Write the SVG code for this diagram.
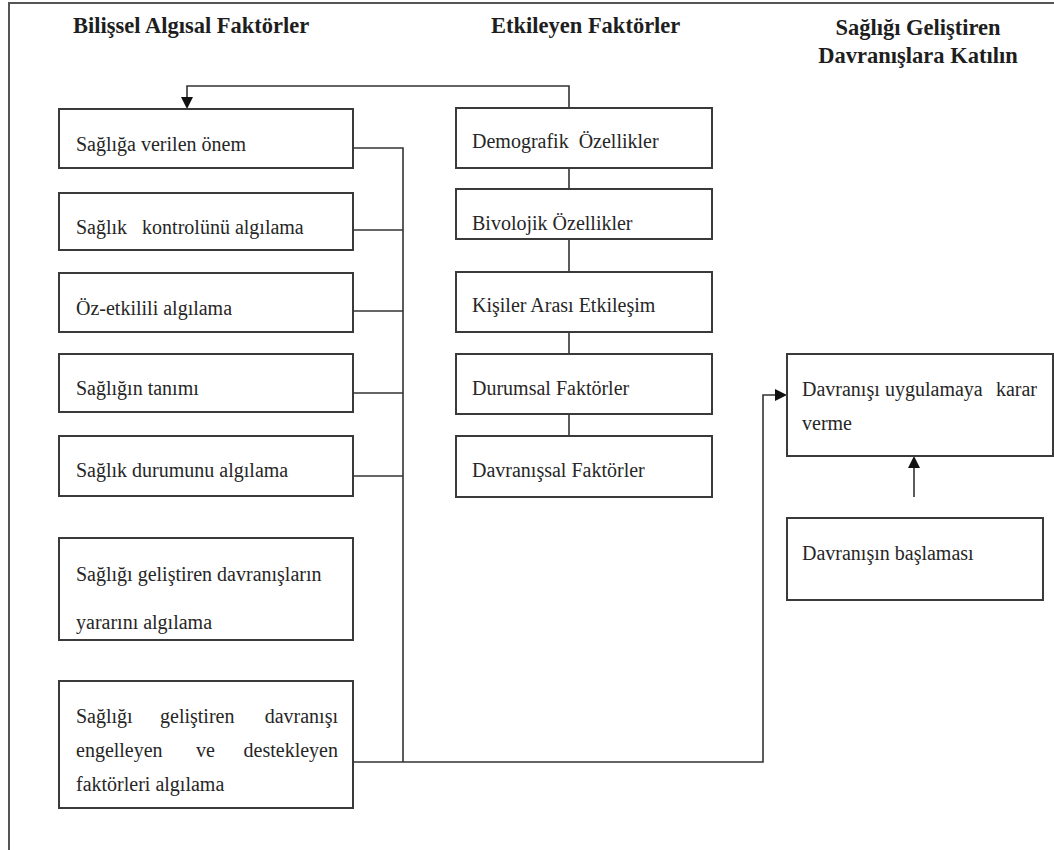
<svg xmlns="http://www.w3.org/2000/svg" width="1054" height="850" viewBox="0 0 1054 850">
<style>
.box{fill:#fff;stroke:#3a3a3a;stroke-width:2}
.t{font-family:"Liberation Serif","DejaVu Serif",serif;font-size:20px;fill:#262626;white-space:pre}
.h{font-family:"Liberation Serif","DejaVu Serif",serif;font-size:22.5px;font-weight:bold;fill:#1e1e1e}
.c{fill:none;stroke:#333;stroke-width:1.6}
.ah{fill:#111}
</style>
<rect width="1054" height="850" fill="#fff"/>
<path d="M9,850 V3 H1054" fill="none" stroke="#555" stroke-width="2"/>
<g id="headers">
<text class="h" x="73" y="33">Bilişsel Algısal Faktörler</text>
<text class="h" x="491" y="33">Etkileyen Faktörler</text>
<text class="h" x="918" y="35" text-anchor="middle">Sağlığı Geliştiren</text>
<text class="h" x="918" y="63" text-anchor="middle">Davranışlara Katılın</text>
</g>
<g id="connectors">
<path class="c" d="M569,108 V86 H187 V98"/>
<polygon class="ah" points="181,97 193,97 187,109"/>
<path class="c" d="M353,148 H403 V762"/>
<path class="c" d="M353,230 H403"/>
<path class="c" d="M353,311 H403"/>
<path class="c" d="M353,393 H403"/>
<path class="c" d="M353,476 H403"/>
<path class="c" d="M353,762 H763 V395 H776"/>
<polygon class="ah" points="775,389 775,401 787,395"/>
<path class="c" d="M569,168 V189"/>
<path class="c" d="M569,228 V272"/>
<path class="c" d="M569,332 V354"/>
<path class="c" d="M569,414 V436"/>
<path class="c" d="M914,497 V467"/>
<polygon class="ah" points="908,468 920,468 914,456"/>
</g>
<g id="n1"><rect class="box" x="59" y="109" width="294" height="59"/><text class="t" x="76" y="151">Sağlığa verilen önem</text></g>
<g id="n2"><rect class="box" x="59" y="193" width="294" height="57"/><text class="t" x="76" y="234">Sağlık   kontrolünü algılama</text></g>
<g id="n3"><rect class="box" x="59" y="273" width="294" height="59"/><text class="t" x="76" y="315">Öz-etkilili algılama</text></g>
<g id="n4"><rect class="box" x="59" y="354" width="294" height="58"/><text class="t" x="76" y="395">Sağlığın tanımı</text></g>
<g id="n5"><rect class="box" x="59" y="436" width="294" height="60"/><text class="t" x="76" y="477">Sağlık durumunu algılama</text></g>
<g id="n6"><rect class="box" x="59" y="538" width="294" height="102"/><text class="t" x="76" y="581">Sağlığı geliştiren davranışların</text><text class="t" x="76" y="629">yararını algılama</text></g>
<g id="n7"><rect class="box" x="59" y="681" width="294" height="127"/>
<text class="t" x="76" y="723">Sağlığı</text><text class="t" x="160" y="723">geliştiren</text><text class="t" x="338" y="723" text-anchor="end">davranışı</text>
<text class="t" x="76" y="757">engelleyen</text><text class="t" x="196" y="757">ve</text><text class="t" x="338" y="757" text-anchor="end">destekleyen</text>
<text class="t" x="76" y="791">faktörleri algılama</text></g>
<g id="m1"><rect class="box" x="456" y="108" width="256" height="60"/><text class="t" x="472" y="148">Demografik  Özellikler</text></g>
<g id="m2"><rect class="box" x="456" y="189" width="256" height="50"/><text class="t" x="472" y="230">Bivolojik Özellikler</text></g>
<g id="m3"><rect class="box" x="456" y="272" width="256" height="60"/><text class="t" x="472" y="312">Kişiler Arası Etkileşim</text></g>
<g id="m4"><rect class="box" x="456" y="354" width="256" height="60"/><text class="t" x="472" y="395">Durumsal Faktörler</text></g>
<g id="m5"><rect class="box" x="456" y="436" width="256" height="61"/><text class="t" x="472" y="477">Davranışsal Faktörler</text></g>
<g id="r1"><rect class="box" x="787" y="354" width="266" height="102"/>
<text class="t" x="802" y="396">Davranışı</text><text class="t" x="885" y="396">uygulamaya</text><text class="t" x="1037" y="396" text-anchor="end">karar</text>
<text class="t" x="802" y="430">verme</text></g>
<g id="r2"><rect class="box" x="787" y="518" width="256" height="82"/><text class="t" x="802" y="560">Davranışın başlaması</text></g>
</svg>
